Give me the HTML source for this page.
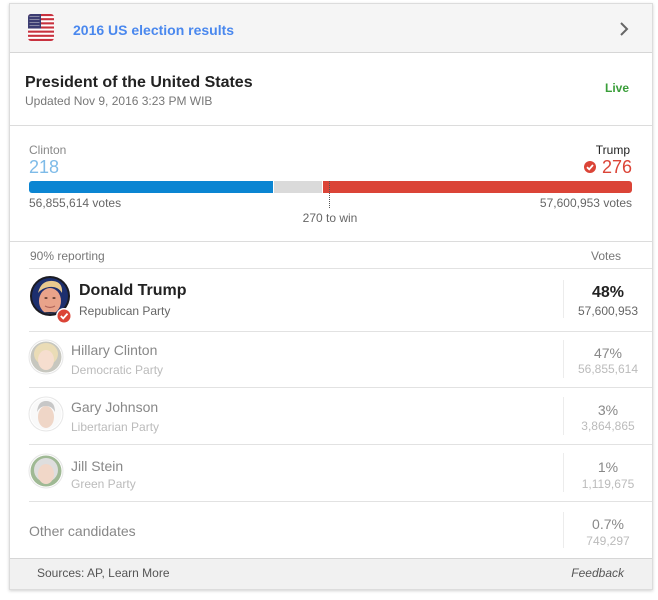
<!DOCTYPE html>
<html><head><meta charset="utf-8">
<style>
html,body{margin:0;padding:0;background:#fff;}
body{width:658px;height:600px;position:relative;overflow:hidden;font-family:"Liberation Sans",Arial,sans-serif;}
.a{position:absolute;white-space:nowrap;}
.card{position:absolute;left:9px;top:3px;width:642px;height:585px;border:1px solid #dcdcdc;box-shadow:0 1px 3px rgba(0,0,0,.18);background:#fff;}
.hr{position:absolute;height:1px;background:#e2e2e2;}
.vs{position:absolute;width:1px;background:#ececec;left:563px;}
.c{text-align:center;width:100px;left:558px;}
</style></head><body>
<div class="card"></div>
<!-- header -->
<div class="a" style="left:10px;top:4px;width:642px;height:48px;background:#f5f5f5;"></div>
<div class="hr" style="left:10px;top:52px;width:642px;background:#d6d6d6;"></div>
<svg class="a" style="left:28px;top:14px" width="26" height="27" viewBox="0 0 26 27">
<defs><clipPath id="fc"><rect x="0" y="0" width="26" height="27" rx="3"/></clipPath></defs>
<g clip-path="url(#fc)">
<rect width="26" height="27" fill="#fff"/>
<g fill="#c8313e">
<rect y="0" width="26" height="2.1"/><rect y="4.15" width="26" height="2.1"/><rect y="8.3" width="26" height="2.1"/><rect y="12.45" width="26" height="2.1"/><rect y="16.6" width="26" height="2.1"/><rect y="20.75" width="26" height="2.1"/><rect y="24.9" width="26" height="2.1"/>
</g>
<rect width="13" height="14.5" fill="#3c3d72"/>
<g fill="#aab" opacity=".7"><rect x="1.5" y="2" width="10" height="1"/><rect x="1.5" y="5" width="10" height="1"/><rect x="1.5" y="8" width="10" height="1"/><rect x="1.5" y="11" width="10" height="1"/></g>
</g></svg>
<div class="a" style="left:73px;top:23px;font-size:14px;line-height:14px;font-weight:bold;color:#4a88ee;">2016 US election results</div>
<svg class="a" style="left:618px;top:21px" width="12" height="16"><polyline points="3,2 9,8 3,14" fill="none" stroke="#666" stroke-width="2"/></svg>

<!-- title -->
<div class="a" style="left:25px;top:75px;font-size:16px;line-height:16px;font-weight:bold;color:#222;">President of the United States</div>
<div class="a" style="left:25px;top:95px;font-size:12px;line-height:12px;color:#777;">Updated Nov 9, 2016 3:23 PM WIB</div>
<div class="a" style="left:605px;top:81.5px;font-size:12px;line-height:12px;font-weight:bold;color:#3a9e3a;">Live</div>
<div class="hr" style="left:10px;top:125px;width:642px;background:#dcdcdc;"></div>

<!-- electoral -->
<div class="a" style="left:29px;top:144.3px;font-size:12px;line-height:12px;color:#888;">Clinton</div>
<div class="a" style="left:29px;top:158px;font-size:18px;line-height:18px;color:#7ebbe8;">218</div>
<div class="a" style="right:28px;top:144.3px;font-size:12px;line-height:12px;color:#222;">Trump</div>
<div class="a" style="right:26px;top:158px;font-size:18px;line-height:18px;color:#db4437;">276</div>
<svg class="a" style="left:583px;top:160px" width="14" height="14"><circle cx="7" cy="7" r="6" fill="#db4437"/><polyline points="4,7.2 6.2,9.3 10,5" fill="none" stroke="#fff" stroke-width="1.8"/></svg>

<div class="a" style="left:29px;top:181px;width:244px;height:12px;background:#0b85d2;border-radius:3px 0 0 3px;"></div>
<div class="a" style="left:274px;top:181px;width:48px;height:12px;background:#dadada;"></div>
<div class="a" style="left:323px;top:181px;width:309px;height:12px;background:#db4437;border-radius:0 3px 3px 0;"></div>
<div class="a" style="left:329px;top:181px;width:0;height:27px;border-left:1px dotted #555;"></div>
<div class="a" style="left:29px;top:196.8px;font-size:12px;line-height:12px;color:#666;">56,855,614 votes</div>
<div class="a" style="right:26px;top:196.8px;font-size:12px;line-height:12px;color:#666;">57,600,953 votes</div>
<div class="a" style="left:280px;width:100px;text-align:center;top:211.5px;font-size:12px;line-height:12px;color:#666;">270 to win</div>
<div class="hr" style="left:10px;top:241px;width:642px;background:#dcdcdc;"></div>

<div class="a" style="left:30px;top:250px;font-size:12px;line-height:12px;color:#777;">90% reporting</div>
<div class="a" style="left:556px;width:100px;text-align:center;top:250px;font-size:12px;line-height:12px;color:#777;">Votes</div>
<div class="hr" style="left:29px;top:268px;width:623px;"></div>

<!-- Trump -->
<svg class="a" style="left:29px;top:275px" width="46" height="52" viewBox="0 0 46 52">
<defs><clipPath id="tc"><circle cx="21" cy="21" r="18"/></clipPath></defs>
<circle cx="21" cy="21" r="20" fill="#1b1b22"/>
<g clip-path="url(#tc)">
<rect width="46" height="46" fill="#1d2f6e"/>
<ellipse cx="21" cy="26" rx="11" ry="13" fill="#e9a38a"/>
<path d="M9,18 Q12,5 24,6 Q34,7 33,18 Q29,11 20,12 Q13,13 9,18Z" fill="#e8c98e"/>
<ellipse cx="21" cy="43" rx="18" ry="6" fill="#222a44"/>
<ellipse cx="17" cy="23" rx="1.6" ry="1" fill="#6b4538"/><ellipse cx="25" cy="23" rx="1.6" ry="1" fill="#6b4538"/>
<path d="M16,31 Q21,34 26,31" stroke="#b0655a" stroke-width="1.2" fill="none"/>
</g>
<circle cx="35" cy="41" r="8" fill="#fff"/>
<circle cx="35" cy="41" r="6.5" fill="#db4437"/>
<polyline points="31.8,41 34.2,43.4 38.5,38.6" fill="none" stroke="#fff" stroke-width="1.8"/>
</svg>
<div class="a" style="left:79px;top:283px;font-size:16px;line-height:16px;font-weight:bold;color:#222;">Donald Trump</div>
<div class="a" style="left:79px;top:305px;font-size:12px;line-height:12px;color:#666;">Republican Party</div>
<div class="vs" style="top:280px;height:38px;"></div>
<div class="a c" style="top:284.8px;font-size:16px;line-height:16px;font-weight:bold;color:#222;">48%</div>
<div class="a c" style="top:305.3px;font-size:12px;line-height:12px;color:#666;">57,600,953</div>
<div class="hr" style="left:29px;top:331px;width:623px;"></div>

<!-- Clinton -->
<svg class="a" style="left:28px;top:339px" width="36" height="36" viewBox="0 0 36 36">
<defs><clipPath id="hc"><circle cx="18" cy="18" r="15.5"/></clipPath></defs>
<circle cx="18" cy="18" r="17" fill="#fff" stroke="#e6e6e6"/>
<g clip-path="url(#hc)" opacity=".55">
<rect width="36" height="36" fill="#9a9a8a"/>
<ellipse cx="18" cy="15" rx="12" ry="11" fill="#d9c07a"/>
<ellipse cx="18" cy="21" rx="8" ry="10" fill="#eec4a8"/>
</g></svg>
<div class="a" style="left:71px;top:343.2px;font-size:14px;line-height:14px;color:#888;">Hillary Clinton</div>
<div class="a" style="left:71px;top:363.5px;font-size:12px;line-height:12px;color:#bbb;">Democratic Party</div>
<div class="vs" style="top:340px;height:38px;"></div>
<div class="a c" style="top:346.4px;font-size:14px;line-height:14px;color:#888;">47%</div>
<div class="a c" style="top:363.4px;font-size:12px;line-height:12px;color:#bbb;">56,855,614</div>
<div class="hr" style="left:29px;top:387px;width:623px;"></div>

<!-- Johnson -->
<svg class="a" style="left:28px;top:396px" width="36" height="36" viewBox="0 0 36 36">
<defs><clipPath id="gc"><circle cx="18" cy="18" r="15.5"/></clipPath></defs>
<circle cx="18" cy="18" r="17" fill="#fff" stroke="#e6e6e6"/>
<g clip-path="url(#gc)" opacity=".55">
<rect width="36" height="36" fill="#f4f4f4"/>
<ellipse cx="18" cy="21" rx="8" ry="11" fill="#e2b49a"/>
<path d="M9,16 Q10,5 18,5 Q27,5 27,16 Q24,10 18,10 Q12,10 9,16Z" fill="#9a9a9a"/>
</g></svg>
<div class="a" style="left:71px;top:399.9px;font-size:14px;line-height:14px;color:#888;">Gary Johnson</div>
<div class="a" style="left:71px;top:420.8px;font-size:12px;line-height:12px;color:#bbb;">Libertarian Party</div>
<div class="vs" style="top:397px;height:38px;"></div>
<div class="a c" style="top:403px;font-size:14px;line-height:14px;color:#888;">3%</div>
<div class="a c" style="top:420px;font-size:12px;line-height:12px;color:#bbb;">3,864,865</div>
<div class="hr" style="left:29px;top:444px;width:623px;"></div>

<!-- Stein -->
<svg class="a" style="left:28px;top:453px" width="36" height="36" viewBox="0 0 36 36">
<defs><clipPath id="jc"><circle cx="18" cy="18" r="15.5"/></clipPath></defs>
<circle cx="18" cy="18" r="17" fill="#fff" stroke="#e6e6e6"/>
<g clip-path="url(#jc)" opacity=".6">
<rect width="36" height="36" fill="#5f8a4e"/>
<ellipse cx="18" cy="17" rx="12" ry="12" fill="#c8c8c8"/>
<ellipse cx="18" cy="21" rx="8" ry="10" fill="#e8bca4"/>
</g></svg>
<div class="a" style="left:71px;top:458.8px;font-size:14px;line-height:14px;color:#888;">Jill Stein</div>
<div class="a" style="left:71px;top:477.8px;font-size:12px;line-height:12px;color:#bbb;">Green Party</div>
<div class="vs" style="top:453px;height:39px;"></div>
<div class="a c" style="top:459.8px;font-size:14px;line-height:14px;color:#888;">1%</div>
<div class="a c" style="top:477.8px;font-size:12px;line-height:12px;color:#bbb;">1,119,675</div>
<div class="hr" style="left:29px;top:501px;width:623px;"></div>

<!-- Other -->
<div class="a" style="left:29px;top:524.1px;font-size:14px;line-height:14px;color:#888;">Other candidates</div>
<div class="vs" style="top:512px;height:36px;"></div>
<div class="a c" style="top:517.4px;font-size:14px;line-height:14px;color:#888;">0.7%</div>
<div class="a c" style="top:535px;font-size:12px;line-height:12px;color:#bbb;">749,297</div>

<!-- footer -->
<div class="a" style="left:10px;top:558px;width:642px;height:30px;background:#f1f1f1;border-top:1px solid #d6d6d6;"></div>
<div class="a" style="left:37px;top:566.8px;font-size:12px;line-height:12px;color:#555;">Sources: AP, Learn More</div>
<div class="a" style="right:34px;top:566.8px;font-size:12px;line-height:12px;color:#555;font-style:italic;">Feedback</div>
</body></html>
